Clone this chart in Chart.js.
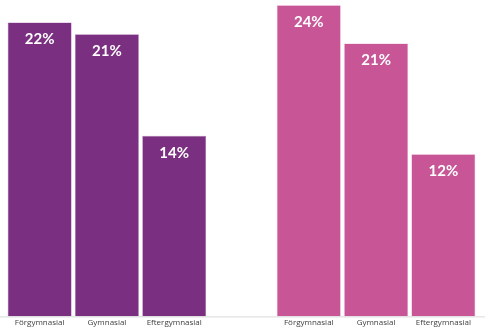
<!DOCTYPE html>
<html>
<head>
<meta charset="utf-8">
<script src="https://cdn.jsdelivr.net/npm/chart.js@4"></script>
<style>
  html, body { margin: 0; padding: 0; background: #ffffff; }
  #wrap { width: 485px; height: 333px; }
</style>
</head>
<body>
<div id="wrap"><canvas id="chart" width="485" height="333"></canvas></div>
<script>
// bars, middle slot left empty as the gap between groups
const categories = ["Förgymnasial", "Gymnasial", "Eftergymnasial", "", "Förgymnasial", "Gymnasial", "Eftergymnasial"];
const groupA = [22.3, 21.4, 13.7, null, null, null, null];
const groupB = [null, null, null, null, 23.6, 20.7, 12.3];

const purple = "#7a2f80";
const pink = "#c85697";

// draw percent labels inside the top of each bar
const valueLabels = {
    id: "valueLabels",
    afterDatasetsDraw(chart) {
        const ctx = chart.ctx;
        ctx.save();
        ctx.fillStyle = "#ffffff";
        ctx.font = "bold 15px Lato, 'Open Sans', sans-serif";
        ctx.textAlign = "center";
        ctx.textBaseline = "middle";
        chart.data.datasets.forEach((ds, i) => {
            chart.getDatasetMeta(i).data.forEach((bar, j) => {
                const v = ds.data[j];
                if (v === null) return;
                ctx.fillText(Math.round(v) + "%", bar.x, bar.y + 17);
            });
        });
        ctx.restore();
    }
};

// full width base line
const baseLine = {
    id: "baseLine",
    afterDatasetsDraw(chart) {
        const ctx = chart.ctx;
        const y = chart.chartArea.bottom + 0.5;
        ctx.save();
        ctx.strokeStyle = "#d9d9d9";
        ctx.lineWidth = 1;
        ctx.beginPath();
        ctx.moveTo(0, y);
        ctx.lineTo(chart.width, y);
        ctx.stroke();
        ctx.restore();
    }
};

new Chart(document.getElementById("chart"), {
    type: "bar",
    data: {
        labels: categories,
        datasets: [
            { data: groupA, backgroundColor: purple, borderColor: "#a872ab", borderWidth: 0.6 },
            { data: groupB, backgroundColor: pink, borderColor: "#e29cc3", borderWidth: 0.6 }
        ]
    },
    options: {
        responsive: false,
        animation: false,
        layout: { padding: { left: 6, right: 8, top: 0, bottom: 3 } },
        datasets: { bar: { grouped: false, categoryPercentage: 1, barPercentage: 0.95 } },
        plugins: { legend: { display: false }, tooltip: { enabled: false } },
        scales: {
            x: {
                grid: { display: false, drawTicks: false },
                border: { display: false },
                ticks: {
                    autoSkip: false,
                    maxRotation: 0,
                    padding: 2,
                    color: "#404040",
                    font: { size: 8, family: "'Open Sans', sans-serif" }
                }
            },
            y: { display: false, min: 0, max: 24 }
        }
    },
    plugins: [valueLabels, baseLine]
});
</script>
</body>
</html>
